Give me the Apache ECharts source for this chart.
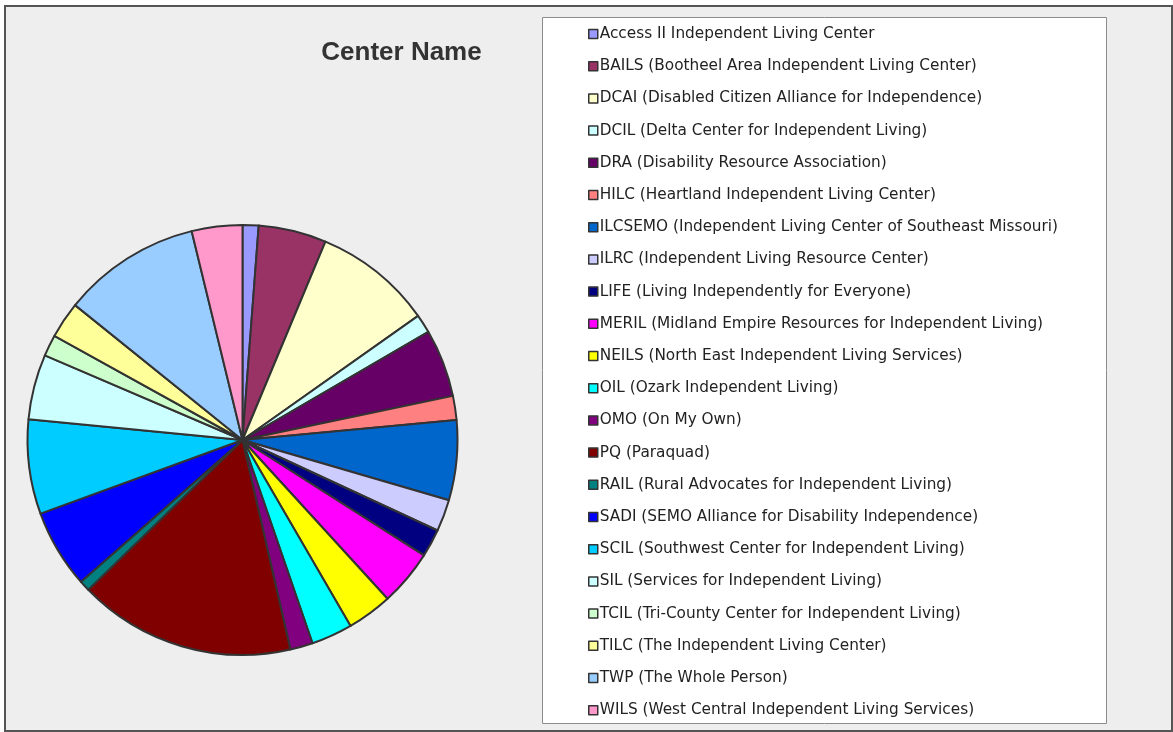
<!DOCTYPE html>
<html style="height: 100%">
   <head>
       <meta charset="utf-8">
   </head>
   <body style="height: 100%; margin: 0">
       <div id="container" style="height: 732px; width: 1173px"></div>
       <script type="text/javascript" src="https://cdn.jsdelivr.net/npm/echarts/dist/echarts.min.js"></script>
       <script type="text/javascript">
// share of each center
var centers = ['Access II Independent Living Center',
    'BAILS (Bootheel Area Independent Living Center)',
    'DCAI (Disabled Citizen Alliance for Independence)',
    'DCIL (Delta Center for Independent Living)',
    'DRA (Disability Resource Association)',
    'HILC (Heartland Independent Living Center)',
    'ILCSEMO (Independent Living Center of Southeast Missouri)',
    'ILRC (Independent Living Resource Center)',
    'LIFE (Living Independently for Everyone)',
    'MERIL (Midland Empire Resources for Independent Living)',
    'NEILS (North East Independent Living Services)',
    'OIL (Ozark Independent Living)',
    'OMO (On My Own)',
    'PQ (Paraquad)',
    'RAIL (Rural Advocates for Independent Living)',
    'SADI (SEMO Alliance for Disability Independence)',
    'SCIL (Southwest Center for Independent Living)',
    'SIL (Services for Independent Living)',
    'TCIL (Tri-County Center for Independent Living)',
    'TILC (The Independent Living Center)',
    'TWP (The Whole Person)',
    'WILS (West Central Independent Living Services)'];
var shares = [1.2, 5.1, 8.9, 1.4, 5.1, 1.8, 6.0, 2.4, 2.1, 4.2, 3.4,
    3.1, 1.7, 16.3, 0.8, 5.9, 7.1, 4.9, 1.6, 2.75, 10.4, 3.8];
var colors = ['#9999FF', '#993366', '#FFFFCC', '#CCFFFF', '#660066', '#FF8080',
    '#0066CC', '#CCCCFF', '#000080', '#FF00FF', '#FFFF00', '#00FFFF',
    '#800080', '#800000', '#008080', '#0000FF', '#00CCFF', '#CCFFFF',
    '#CCFFCC', '#FFFF99', '#99CCFF', '#FF99CC'];

var dom = document.getElementById("container");
var myChart = echarts.init(dom);

var pieData = [];
for (var i = 0; i < centers.length; i++) {
    pieData.push({name: centers[i], value: shares[i]});
}

var option = {
    animation: false,
    backgroundColor: '#ffffff',
    color: colors,
    graphic: [
        {
            type: 'rect', z: -10, silent: true,
            shape: {x: 5, y: 6, width: 1167, height: 725},
            style: {fill: '#eeeeee', stroke: '#555555', lineWidth: 2}
        },
        {
            type: 'rect', z: -9, silent: true,
            shape: {x: 542.5, y: 17.5, width: 564, height: 706},
            style: {fill: '#ffffff', stroke: '#8c8c8c', lineWidth: 1}
        }
    ],
    title: {
        text: 'Center Name',
        left: 396.5,
        top: 35,
        textAlign: 'center',
        textStyle: {
            fontFamily: 'Liberation Sans',
            fontSize: 26,
            fontWeight: 'bold',
            color: '#333333'
        }
    },
    legend: {
        orient: 'vertical',
        left: 588,
        top: 26,
        padding: 0,
        itemWidth: 9,
        itemHeight: 9,
        itemGap: 16.2,
        icon: 'rect',
        itemStyle: {borderColor: '#333333', borderWidth: 1.5},
        textStyle: {
            fontFamily: 'DejaVu Sans',
            fontSize: 15.3,
            lineHeight: 16,
            color: '#222222',
            padding: [0, 0, 0, -3]
        },
        data: centers
    },
    series: [
        {
            type: 'pie',
            center: [242.5, 440],
            radius: 215,
            startAngle: 90,
            clockwise: true,
            label: {show: false},
            labelLine: {show: false},
            emphasis: {disabled: true},
            itemStyle: {borderColor: '#333333', borderWidth: 2},
            data: pieData
        }
    ]
};

myChart.setOption(option, true);
       </script>
   </body>
</html>
